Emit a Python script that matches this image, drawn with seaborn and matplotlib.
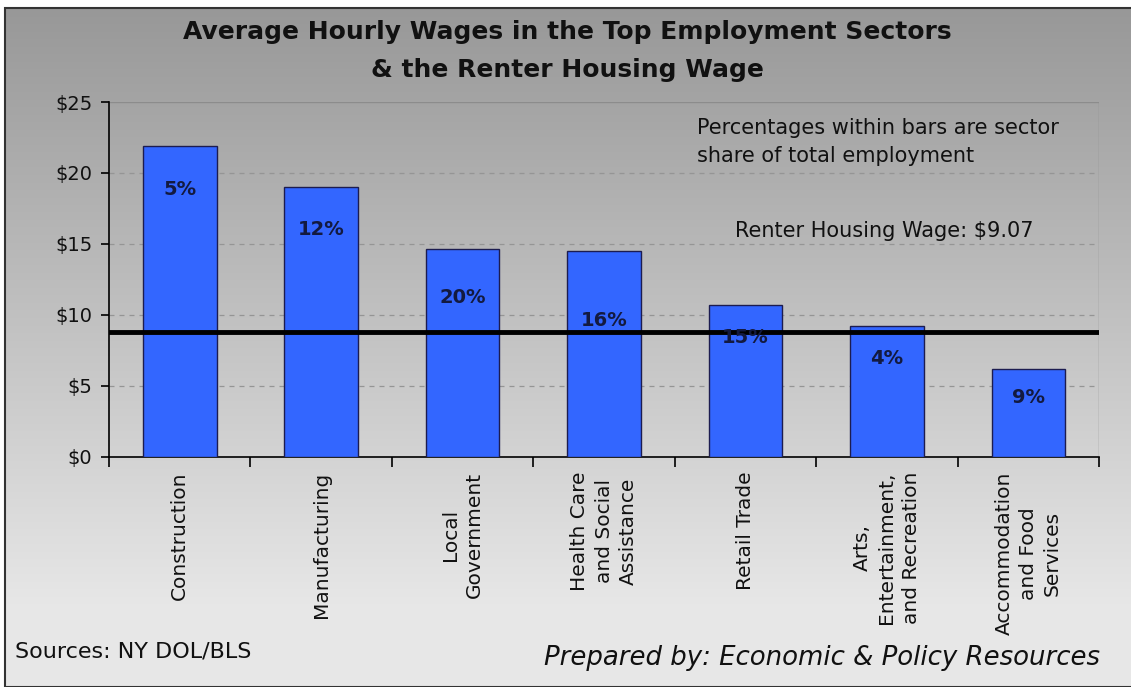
import numpy as np
import pandas as pd
import matplotlib
matplotlib.use("Agg")
import matplotlib.pyplot as plt
import seaborn as sns
from matplotlib.patches import Rectangle

sectors = ["Construction", "Manufacturing", "Local\nGovernment",
           "Health Care\nand Social\nAssistance", "Retail Trade",
           "Arts,\nEntertainment,\nand Recreation",
           "Accommodation\nand Food\nServices"]
wages = [21.9, 19.0, 14.65, 14.5, 10.7, 9.2, 6.2]
shares = ["5%", "12%", "20%", "16%", "15%", "4%", "9%"]
housing_wage = 8.77
housing_label = "Renter Housing Wage: $9.07"
note_lines = ["Percentages within bars are sector", "share of total employment"]
title_lines = ["Average Hourly Wages in the Top Employment Sectors",
               "& the Renter Housing Wage"]
yticks = [0, 5, 10, 15, 20, 25]
ytick_labels = ["$0", "$5", "$10", "$15", "$20", "$25"]

df = pd.DataFrame({"sector": sectors, "wage": wages})

sns.set_theme(style="white")
plt.rcParams['font.family'] = ['DejaVu Sans']

fig = plt.figure(figsize=(11.31, 6.87), dpi=100)
fig.patch.set_facecolor("white")

# background gradient
bg = fig.add_axes([0.0045, 0.0, 0.9955, 0.988], zorder=-10)
n = 400
grad = np.ones(n)
ramp = int(n * 0.88)
grad[:ramp] = np.linspace(0.0, 1.0, ramp)
top_c = np.array([0.596, 0.596, 0.596])
bot_c = np.array([0.906, 0.906, 0.906])
img = top_c[None, None, :] + (bot_c - top_c)[None, None, :] * grad[:, None, None]
img = np.repeat(img, 2, axis=1)
bg.imshow(img, aspect="auto", extent=[0, 1, 0, 1], origin="upper")
bg.set_axis_off()
fig.add_artist(Rectangle((0.0045, 0.0), 1.0, 0.988, transform=fig.transFigure,
                         fill=False, edgecolor="#333333", linewidth=1.5))

ax = fig.add_axes([0.0964, 0.3352, 0.8753, 0.5163])
ax.patch.set_alpha(0)

sns.barplot(data=df, x="sector", y="wage", color="#3366ff", saturation=1,
            width=0.52, edgecolor="#1c1c50", linewidth=1.0, ax=ax, zorder=3)

ax.set_xlim(-0.5, 6.5)
ax.set_ylim(0, 25)
ax.set_yticks(yticks)
ax.set_yticklabels(ytick_labels, fontsize=14, color="#111111")
for y in yticks[1:-1]:
    ax.axhline(y, color="#959595", linestyle=(0, (4, 4)), linewidth=0.9, zorder=1)
ax.axhline(25, color="#8c8c8c", linewidth=1.0, zorder=1)
ax.axvline(6.5, color="#8c8c8c", linewidth=1.0, zorder=1)

ax.axhline(housing_wage, color="black", linewidth=3.5, zorder=5)

for s in ["top", "right"]:
    ax.spines[s].set_visible(False)
ax.spines["left"].set_color("black")
ax.spines["bottom"].set_color("black")
ax.spines["left"].set_linewidth(1.2)
ax.spines["bottom"].set_linewidth(1.2)
ax.tick_params(axis="y", which="major", length=6, width=1.2, color="black",
               direction="out", left=True, pad=6)

ax.set_xticks(range(len(sectors)))
ax.set_xticklabels([])
ax.tick_params(axis="x", which="major", length=0)
ax.set_xticks(np.arange(-0.5, 7.0, 1.0), minor=True)
ax.tick_params(axis="x", which="minor", length=7, width=1.2, color="black",
               direction="out", bottom=True)
ax.set_xlabel("")
ax.set_ylabel("")

for i, lab in enumerate(sectors):
    ax.text(i, -1.05, lab, rotation=90, ha="center", va="top",
            multialignment="center", fontsize=14.5, color="#111111",
            linespacing=1.35, transform=ax.transData)

label_offsets = [3.1, 3.0, 3.4, 4.9, 2.3, 2.25, 2.0]
for i, (w, s) in enumerate(zip(wages, shares)):
    ax.text(i, w - label_offsets[i], s, ha="center", va="center",
            fontsize=14, fontweight="bold", color="#131a40", zorder=6)

for k, (line, yy) in enumerate(zip(note_lines, [0.8137, 0.7729])):
    fig.text(0.616, yy, line, fontsize=15, color="#111111",
             ha="left", va="center")
fig.text(0.65, 0.664, housing_label, fontsize=15, color="#111111",
         ha="left", va="center")

for line, yy in zip(title_lines, [0.9534, 0.898]):
    fig.text(0.502, yy, line, ha="center", va="center", fontsize=18,
             fontweight="bold", color="#111111")

fig.text(0.013, 0.051, "Sources: NY DOL/BLS", ha="left", va="center",
         fontsize=16, color="#111111")
fig.text(0.973, 0.042, "Prepared by: Economic & Policy Resources", ha="right",
         va="center", fontsize=18.7, style="italic", color="#111111")

fig.savefig("out.png", dpi=100)
